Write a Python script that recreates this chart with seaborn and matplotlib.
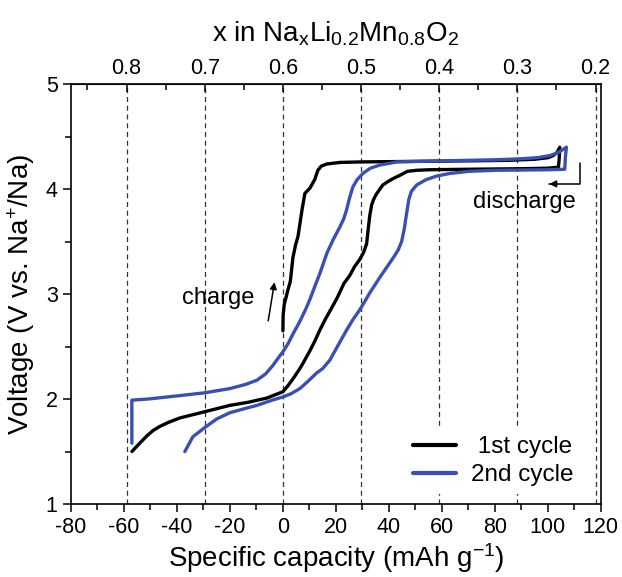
import pandas as pd
import matplotlib
matplotlib.use("Agg")
import matplotlib.pyplot as plt
from matplotlib.ticker import MultipleLocator
import seaborn as sns

############# Data #############

# 1st cycle: charge from 0 up to 4.4 V, then discharge down to 1.5 V
cap_1st = [0, 0.1, 0.5, 1.0, 2.0, 2.8, 3.8, 4.8, 5.7, 6.6, 7.2, 8.3, 10.2, 12, 13.2, 14.5,
           16.6, 21.5, 30, 50, 70, 85, 95, 100, 102, 103.5, 104.5,
           104.3, 104, 100, 90, 70, 55, 50.5, 47, 44, 41.5, 39.5, 37.7, 36.3, 35.2, 34.2, 33.5,
           32.8, 32.2, 31.6, 30.5, 29, 27, 25.3, 23, 20.4, 18, 16, 14, 12, 10.2, 8, 6.4, 4, 2, 0,
           -3, -6, -13, -20, -29.4, -38.9, -43, -46.4, -49, -51.3, -54, -57]
volt_1st = [2.65, 2.80, 2.90, 2.95, 3.05, 3.12, 3.35, 3.47, 3.55, 3.70, 3.80, 3.96, 4.01, 4.09, 4.18, 4.22,
            4.24, 4.255, 4.26, 4.265, 4.27, 4.275, 4.285, 4.30, 4.32, 4.35, 4.40,
            4.30, 4.21, 4.20, 4.195, 4.19, 4.185, 4.18, 4.17, 4.13, 4.10, 4.07, 4.04, 3.99, 3.95, 3.90, 3.85,
            3.75, 3.62, 3.48, 3.40, 3.33, 3.26, 3.18, 3.10, 2.96, 2.85, 2.76, 2.66, 2.55, 2.46, 2.36, 2.29, 2.20, 2.13, 2.07,
            2.04, 2.01, 1.97, 1.94, 1.88, 1.82, 1.78, 1.74, 1.70, 1.65, 1.58, 1.50]

# 2nd cycle: charge from -57 up to 4.4 V, then discharge down to 1.5 V
cap_2nd = [-57, -57, -51, -40, -29.4, -20, -14, -9.8, -6.5, -3.8, -1.5, 0, 2, 3.8, 6.4, 8.5, 10.2, 12,
           14, 16.6, 19, 21.5, 23, 24, 25.2, 26.4, 28, 30.2, 33, 36.6, 43, 60, 80, 90, 96, 100.8, 104, 107,
           106.6, 106.4, 100, 80, 70, 63, 58, 54, 50.5, 48.5, 47.5, 46.7, 45.8, 44.8, 43.5, 42, 40.4, 38.5,
           36.6, 33, 29, 26.5, 24.1, 21, 17.7, 15, 12.8, 9.5, 6.4, 3, 0, -4, -9.8, -15, -20, -25, -29.4,
           -34, -37]
volt_2nd = [1.58, 1.99, 2.00, 2.03, 2.06, 2.10, 2.14, 2.18, 2.24, 2.32, 2.40, 2.45, 2.53, 2.62, 2.74, 2.85, 2.95, 3.07,
            3.20, 3.39, 3.52, 3.64, 3.72, 3.80, 3.92, 4.02, 4.09, 4.15, 4.20, 4.23, 4.26, 4.27, 4.28, 4.29, 4.30, 4.32, 4.35, 4.40,
            4.30, 4.19, 4.185, 4.18, 4.17, 4.15, 4.125, 4.09, 4.04, 3.98, 3.90, 3.77, 3.62, 3.50, 3.42, 3.36, 3.30, 3.23,
            3.16, 3.02, 2.85, 2.76, 2.66, 2.52, 2.37, 2.29, 2.25, 2.17, 2.10, 2.05, 2.02, 1.99, 1.94, 1.905, 1.87, 1.81, 1.73,
            1.64, 1.50]

cycle_names = ["1st cycle", "2nd cycle"]
x_top_ticks = [0.8, 0.7, 0.6, 0.5, 0.4, 0.3, 0.2]

frame = pd.DataFrame({
    "capacity": cap_1st + cap_2nd,
    "voltage": volt_1st + volt_2nd,
    "cycle": [cycle_names[0]] * len(cap_1st) + [cycle_names[1]] * len(cap_2nd),
})

# capacity <-> Na content
def cap_to_x(c):
    return 0.6 - c / 295.0

def x_to_cap(x):
    return (0.6 - x) * 295.0

############# Plot #############

sns.set_style("ticks")
plt.rcParams['font.family'] = ['Liberation Sans', 'DejaVu Sans']
plt.rcParams['mathtext.fontset'] = 'custom'
plt.rcParams['mathtext.rm'] = 'Liberation Sans'
plt.rcParams['mathtext.it'] = 'Liberation Sans:italic'
plt.rcParams['axes.unicode_minus'] = False
for key in ['text.color', 'axes.labelcolor', 'xtick.color', 'ytick.color']:
    plt.rcParams[key] = 'black'

fig = plt.figure(figsize=(6.22, 5.77), dpi=100)
ax = fig.add_axes([0.114, 0.1265, 0.852, 0.7275])

# dashed guide lines at the top axis ticks
for xv in x_top_ticks:
    ax.axvline(x_to_cap(xv), color='#333333', lw=0.9, ls=(0, (4, 3)), zorder=0)

sns.lineplot(data=frame, x="capacity", y="voltage", hue="cycle", sort=False, estimator=None,
             palette={cycle_names[0]: "black", cycle_names[1]: "#3a4fb2"}, linewidth=2.4, ax=ax)

ax.set_xlim(-80, 120)
ax.set_ylim(1, 5)
ax.xaxis.set_major_locator(MultipleLocator(20))
ax.xaxis.set_minor_locator(MultipleLocator(10))
ax.yaxis.set_major_locator(MultipleLocator(1))
ax.yaxis.set_minor_locator(MultipleLocator(0.5))
ax.tick_params(which='both', direction='out', labelsize=15.5, width=1.1, colors='black')
ax.tick_params(which='major', length=6)
ax.tick_params(which='minor', length=4)
for s in ax.spines.values():
    s.set_linewidth(1.2)
    s.set_color('black')
ax.set_xlabel("Specific capacity (mAh g$^{-1}$)", fontsize=20, labelpad=2)
ax.set_ylabel("Voltage (V vs. Na$^{+}$/Na)", fontsize=20, labelpad=6)

top = ax.secondary_xaxis('top', functions=(cap_to_x, x_to_cap))
top.set_xticks(x_top_ticks)
top.xaxis.set_minor_locator(MultipleLocator(0.05))
top.tick_params(which='both', direction='in', labelsize=15.5, width=1.1, colors='black')
top.tick_params(which='major', length=6)
top.tick_params(which='minor', length=4)
top.set_xlabel("x in Na$_\\mathregular{x}$Li$_\\mathregular{0.2}$Mn$_\\mathregular{0.8}$O$_\\mathregular{2}$",
               fontsize=20, labelpad=12)

# annotations
ax.text(-24.5, 2.96, "charge", fontsize=17, ha='center', va='center')
ax.annotate("", xy=(-3, 3.14), xytext=(-5.7, 2.72),
            arrowprops=dict(arrowstyle='-|>', color='black', lw=1.1, mutation_scale=10))
ax.text(91.3, 3.88, "discharge", fontsize=17, ha='center', va='center')
ax.plot([112, 112, 100.5], [4.25, 4.05, 4.05], color='black', lw=1.1)
ax.annotate("", xy=(99.5, 4.05), xytext=(103, 4.05),
            arrowprops=dict(arrowstyle='-|>', color='black', lw=1.1, mutation_scale=10))

handles, labels = ax.get_legend_handles_labels()
leg = ax.legend(handles=handles, labels=[" 1st cycle", "2nd cycle"], loc='lower right',
                bbox_to_anchor=(0.962, 0.025), fontsize=17.5, frameon=True, handlelength=1.8,
                handletextpad=0.6, borderpad=0.3, labelspacing=0.25, borderaxespad=0)
leg.get_frame().set_edgecolor('none')
leg.get_frame().set_facecolor('white')
leg.get_frame().set_alpha(1)
for line in leg.get_lines():
    line.set_linewidth(3)

plt.savefig("out.png", dpi=100)
plt.close()
